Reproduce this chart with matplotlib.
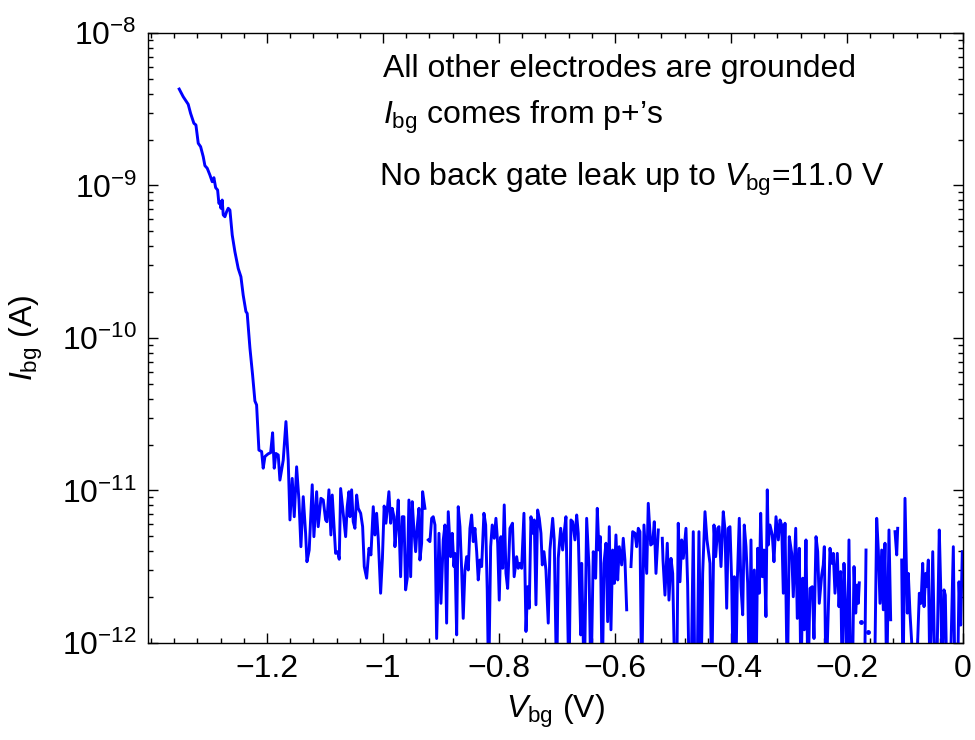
import numpy as np
import matplotlib
matplotlib.use("Agg")
import matplotlib.pyplot as plt
from matplotlib.ticker import FixedLocator, FuncFormatter, LogLocator, NullFormatter

plt.rcParams['font.family'] = ['Liberation Sans', 'DejaVu Sans']
plt.rcParams['mathtext.fontset'] = 'custom'
plt.rcParams['mathtext.rm'] = 'Liberation Sans'
plt.rcParams['mathtext.it'] = 'Liberation Sans:italic'
plt.rcParams['mathtext.default'] = 'regular'

nan = np.nan

# back gate voltage (V) and leakage current (pA); 0.5 pA = below the axis, nan = negative reading
v_bg = [
    -1.3512, -1.3443, -1.3357, -1.3316, -1.3259, -1.3224, -1.3184, -1.3143, -1.3098, -1.3069,
    -1.3029, -1.2983, -1.2943, -1.2914, -1.2884, -1.2850, -1.2828, -1.2810, -1.2793, -1.2771,
    -1.2753, -1.2724, -1.2695, -1.2667, -1.2638, -1.2598, -1.2552, -1.2495, -1.2448, -1.2409,
    -1.2362, -1.2340, -1.2293, -1.2247, -1.2207, -1.2178, -1.2138, -1.2091, -1.2064, -1.2034,
    -1.1978, -1.1936, -1.1902, -1.1874, -1.1845, -1.1805, -1.1776, -1.1747, -1.1719, -1.1672,
    -1.1633, -1.1603, -1.1564, -1.1529, -1.1488, -1.1448, -1.1414, -1.1374, -1.1333, -1.1310,
    -1.1271, -1.1241, -1.1219, -1.1190, -1.1143, -1.1116, -1.1069, -1.1029, -1.0988, -1.0966,
    -1.0931, -1.0897, -1.0874, -1.0816, -1.0781, -1.0753, -1.0729, -1.0684, -1.0643, -1.0616,
    -1.0586, -1.0569, -1.0540, -1.0512, -1.0483, -1.0453, -1.0426, -1.0384, -1.0350, -1.0322,
    -1.0281, -1.0241, -1.0207, -1.0167, -1.0138, -1.0109, -1.0081, -1.0040, -1.0009, -0.9979,
    -0.9948, -0.9897, -0.9867, -0.9840, -0.9810, -0.9793, -0.9764, -0.9736, -0.9695, -0.9667,
    -0.9638, -0.9609, -0.9581, -0.9552, -0.9522, -0.9495, -0.9466, -0.9436, -0.9409, -0.9379,
    -0.9362, -0.9333, -0.9316, -0.9276, -0.9247, -0.9219, -0.9190, -0.9160, -0.9133, -0.9103,
    -0.9074, -0.9034, -0.9000, -0.8960, -0.8931, -0.8902, -0.8874, -0.8833, -0.8805, -0.8776,
    -0.8759, -0.8729, -0.8702, -0.8672, -0.8643, -0.8616, -0.8586, -0.8557, -0.8529, -0.8500,
    -0.8471, -0.8443, -0.8414, -0.8384, -0.8357, -0.8328, -0.8298, -0.8259, -0.8229, -0.8202,
    -0.8178, -0.8143, -0.8116, -0.8081, -0.8052, -0.8022, -0.7995, -0.7966, -0.7936, -0.7909,
    -0.7879, -0.7850, -0.7810, -0.7767, -0.7738, -0.7695, -0.7667, -0.7638, -0.7609, -0.7569,
    -0.7534, -0.7505, -0.7478, -0.7448, -0.7419, -0.7391, -0.7362, -0.7333, -0.7305, -0.7276,
    -0.7253, -0.7224, -0.7190, -0.7150, -0.7121, -0.7074, -0.7047, -0.7005, -0.6978, -0.6936,
    -0.6902, -0.6874, -0.6845, -0.6793, -0.6759, -0.6729, -0.6690, -0.6660, -0.6633, -0.6591,
    -0.6574, -0.6529, -0.6488, -0.6448, -0.6414, -0.6374, -0.6333, -0.6305, -0.6276, -0.6253,
    -0.6219, -0.6190, -0.6155, -0.6126, -0.6098, -0.6069, -0.6040, -0.6012, -0.5983, -0.5953,
    -0.5926, -0.5884, -0.5857, -0.5828, -0.5798, -0.5759, -0.5724, -0.5695, -0.5655, -0.5626,
    -0.5598, -0.5569, -0.5540, -0.5500, -0.5453, -0.5426, -0.5384, -0.5350, -0.5322, -0.5293,
    -0.5253, -0.5224, -0.5184, -0.5172, -0.5138, -0.5098, -0.5069, -0.5034, -0.5005, -0.4966,
    -0.4936, -0.4909, -0.4879, -0.4850, -0.4822, -0.4776, -0.4747, -0.4719, -0.4690, -0.4650,
    -0.4621, -0.4586, -0.4552, -0.4517, -0.4488, -0.4448, -0.4414, -0.4362, -0.4333, -0.4293,
    -0.4264, -0.4229, -0.4207, -0.4172, -0.4133, -0.4103, -0.4074, -0.4047, -0.4017, -0.3988,
    -0.3960, -0.3943, -0.3919, -0.3891, -0.3857, -0.3828, -0.3798, -0.3771, -0.3741, -0.3712,
    -0.3684, -0.3655, -0.3626, -0.3598, -0.3569, -0.3540, -0.3512, -0.3488, -0.3460, -0.3431,
    -0.3397, -0.3374, -0.3357, -0.3328, -0.3288, -0.3259, -0.3224, -0.3184, -0.3155, -0.3126,
    -0.3098, -0.3069, -0.3029, -0.2995, -0.2953, -0.2926, -0.2884, -0.2857, -0.2822, -0.2793,
    -0.2764, -0.2736, -0.2707, -0.2672, -0.2638, -0.2598, -0.2569, -0.2534, -0.2505, -0.2478,
    -0.2436, -0.2409, -0.2391, -0.2362, -0.2322, -0.2293, -0.2264, -0.2236, -0.2207, -0.2167,
    -0.2138, -0.2109, -0.2081, -0.2052, -0.2022, -0.1995, -0.1966, -0.1936, -0.1909, -0.1879,
    -0.1850, -0.1822, -0.1805, -0.1788, -0.1771, -0.1753, -0.1724, -0.1698, -0.1672, -0.1650,
    -0.1633, -0.1612, -0.1569, -0.1526, -0.1488, -0.1460, -0.1431, -0.1402, -0.1374, -0.1345,
    -0.1316, -0.1276, -0.1247, -0.1207, -0.1172, -0.1143, -0.1126, -0.1095, -0.1057, -0.1034,
    -0.1000, -0.0960, -0.0943, -0.0914, -0.0884, -0.0853, -0.0810, -0.0753, -0.0724, -0.0695,
    -0.0672, -0.0643, -0.0626, -0.0598, -0.0569, -0.0522, -0.0495, -0.0457, -0.0409, -0.0384,
    -0.0357, -0.0328, -0.0305, -0.0276, -0.0224, -0.0167, -0.0138, -0.0095, -0.0069, -0.0040,
    -0.0012,
]

i_bg_pA = [
    4290, 3820, 3408, 2974, 2558, 2494, 1892, 1797, 1545, 1349,
    1297, 1172, 1059, 1125, 968, 934, 764, 783, 709, 803,
    641, 624, 673, 709, 690, 473, 368, 286, 252, 191,
    149, 145, 86, 57.2, 38.6, 36.4, 18.4, 18.0, 14.0, 16.7,
    17.4, 17.7, 23.9, 14.0, 17.5, 17.1, 11.7, 13.6, 15.8, 28.3,
    15.8, 6.41, 12.0, 6.73, 14.3, 8.66, 4.28, 9.11, 5.24, 3.41,
    4.07, 7.09, 10.9, 4.98, 9.82, 5.79, 8.89, 8.66, 6.41, 6.24,
    10.1, 5.11, 9.34, 3.87, 3.97, 3.54, 10.3, 7.09, 4.98, 7.83,
    9.82, 6.73, 10.1, 6.24, 5.65, 9.34, 7.64, 7.09, 5.79, 3.17,
    2.66, 4.18, 3.78, 7.83, 5.11, 7.09, 4.86, 2.12, 3.59, 7.91,
    6.10, 9.82, 6.10, 7.64, 6.73, 4.28, 5.94, 8.66, 2.72, 6.73,
    6.73, 2.23, 2.66, 8.66, 2.72, 8.45, 5.51, 3.97, 5.79, 7.64,
    3.50, 4.51, 9.82, 7.64, nan, 4.74, 4.62, 6.57, 6.73, 5.94,
    1.07, 5.24, 1.82, 4.74, 5.94, 1.35, 7.26, 3.68, 5.24, 3.17,
    3.87, 1.13, 7.83, 5.79, 3.01, 1.45, 3.01, 3.68, 3.01, 5.65,
    6.91, 4.62, 5.65, 3.97, 2.59, 3.50, 3.17, 7.09, 5.94, 2.23,
    0.5, 4.28, 5.94, 4.86, 6.57, 4.51, 1.91, 4.98, 3.09, 8.04,
    2.86, 2.28, 5.65, 6.10, 2.72, 3.68, 3.09, 3.33, 3.09, 7.09,
    1.19, 2.34, 1.69, 6.73, 5.24, 6.41, 1.78, 7.45, 6.57, 5.24,
    3.25, 3.97, 3.01, 1.35, 4.07, 6.57, 4.74, 0.5, 3.59, 5.65,
    4.07, 5.37, 6.73, 0.5, 6.41, 6.24, 4.74, 6.91, 5.24, 1.13,
    3.33, 0.5, 6.57, 3.17, 0.5, 3.97, 2.66, 7.64, 4.07, 4.98,
    0.5, 3.33, 4.51, 1.38, 5.79, 1.22, 4.07, 2.46, 5.11, 2.59,
    4.28, 3.25, 4.86, 3.50, 1.65, nan, 3.17, 5.37, 5.24, 4.28,
    5.65, 5.37, 0.5, 5.94, 2.86, 8.24, 4.39, 4.51, 6.24, 2.86,
    5.51, nan, 4.86, 3.50, 2.06, 4.51, 1.91, 3.59, 2.86, 0.5,
    0.5, 6.10, 2.52, 4.74, 3.59, 5.65, 2.40, 0.5, 0.5, 5.37,
    0.5, 0.5, 5.37, 0.5, 2.86, 7.26, 4.74, 3.33, 0.5, 5.94,
    3.68, 5.65, 5.79, 3.17, 7.26, 5.51, 1.69, 5.65, 5.79, 2.52,
    0.5, 2.72, 0.5, 2.52, 6.57, 2.34, 1.53, 5.94, 4.28, 2.46,
    0.5, 4.74, 0.5, 3.01, 0.5, 4.18, 2.12, 7.09, 2.72, 4.07,
    1.49, 10.1, 4.39, 5.94, 5.11, 3.41, 6.73, 4.74, 6.41, 5.94,
    2.12, 6.10, 0.5, 4.98, 3.87, 2.01, 5.65, 1.45, 4.18, 0.5,
    2.66, 1.22, 4.74, 0.5, 2.28, 2.34, 1.07, 4.98, 3.97, 1.82,
    2.79, 3.25, 4.28, 0.5, 1.65, 4.18, 3.33, 3.87, 2.12, 3.87,
    1.73, 2.94, 0.5, 3.33, 1.69, 0.5, 4.74, 0.5, 0.5, 3.17,
    1.57, 2.40, 1.82, 2.48, nan, 1.38, nan, 0.5, 4.07, nan,
    1.18, nan, 0.5, 0.5, 6.57, 4.07, 1.82, 4.07, 1.65, 4.51,
    0.5, 5.51, 1.42, nan, 5.37, 3.78, 5.65, nan, 3.50, 0.5,
    8.89, 1.57, 2.86, 1.57, 1.0, 0.5, 0.5, 2.12, 1.82, 3.33,
    1.73, 2.86, 2.34, 3.50, 0.5, 3.97, 1.02, 0.5, 5.51, 2.28,
    0.5, 2.23, 2.06, 0.5, 0.5, 4.28, 0.5, 0.5, 2.52, 1.31,
    3.97,
]

x_ticks = [-1.2, -1.0, -0.8, -0.6, -0.4, -0.2, 0.0]

v = np.array(v_bg)
i_amp = np.array(i_bg_pA) * 1e-12

# points with a negative reading on both sides show up only as dots
ok = np.isfinite(i_amp)
prev_ok = np.r_[False, ok[:-1]]
next_ok = np.r_[ok[1:], False]
lone = ok & ~prev_ok & ~next_ok

fig = plt.figure(figsize=(9.75, 7.4), dpi=100)
ax = fig.add_axes([0.1518, 0.1311, 0.8359, 0.8243])

ax.plot(v, i_amp, color='#0000ff', lw=2.1, solid_joinstyle='round')
ax.plot(v[lone], i_amp[lone], ls='none', marker='o', ms=2.5, color='#0000ff')

ax.set_yscale('log')
ax.set_xlim(-1.405, 0)
ax.set_ylim(1e-12, 1e-8)

ax.xaxis.set_major_locator(FixedLocator(x_ticks))
ax.xaxis.set_minor_locator(FixedLocator(np.arange(-1.4, 0.001, 0.04)))
ax.xaxis.set_major_formatter(FuncFormatter(lambda x, p: ('%g' % round(x, 2)).replace('-', '\u2212')))
ax.yaxis.set_major_locator(LogLocator(base=10, numticks=10))
ax.yaxis.set_minor_locator(LogLocator(base=10, subs=np.arange(2, 10), numticks=10))
ax.yaxis.set_minor_formatter(NullFormatter())

ax.tick_params(which='both', direction='in', top=True, right=True, labelsize=23, width=1.0)
ax.tick_params(which='major', length=7, pad=8)
ax.tick_params(which='minor', length=3.5)
for sp in ax.spines.values():
    sp.set_linewidth(1.0)

ax.set_xlabel(r'$\mathit{V}_{\rm bg}$ (V)', fontsize=23, labelpad=6)
ax.set_ylabel(r'$\mathit{I}_{\rm bg}$ (A)', fontsize=23, labelpad=12)

ax.text(0.288, 0.941, 'All other electrodes are grounded', transform=ax.transAxes,
        fontsize=23, va='center', ha='left')
ax.text(0.288, 0.862, r'$\mathit{I}_{\rm bg}$ comes from p+’s', transform=ax.transAxes,
        fontsize=23, va='center', ha='left')
ax.text(0.284, 0.76, r'No back gate leak up to $\mathit{V}_{\rm bg}$=11.0 V', transform=ax.transAxes,
        fontsize=23, va='center', ha='left')

fig.savefig('out.png', dpi=100)
